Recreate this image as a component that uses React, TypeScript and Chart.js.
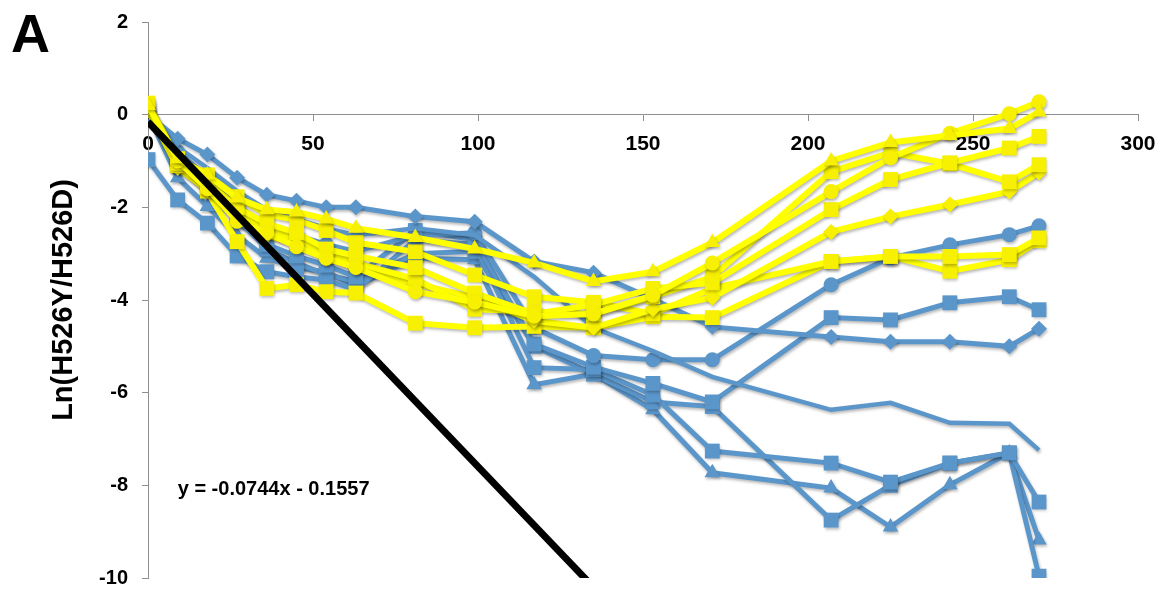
import React, { useEffect, useRef } from 'react';
import { Chart, registerables } from 'chart.js';

Chart.register(...registerables);

// Sampling times (x axis)
const X_VALUES = [0, 9, 18, 27, 36, 45, 54, 63, 81, 99, 117, 135, 153, 171, 207, 225, 243, 261, 270];

// Blue series (Ln ratio per sampling time)
const BLUE_DIAMOND = [0, -0.52, -0.86, -1.36, -1.73, -1.86, -2.0, -2.0, -2.2, -2.31, -3.17, -3.41, -3.98, -4.58, -4.8, -4.9, -4.9, -5.0, -4.62];
const BLUE_PLAIN = [0, -0.7, -1.15, -1.65, -2.05, -2.25, -2.45, -2.6, -2.45, -2.6, -3.5, -4.6, -5.1, -5.66, -6.37, -6.22, -6.65, -6.67, -7.24];
const BLUE_CIRCLE = [0, -0.8, -1.35, -1.95, -2.4, -2.6, -2.8, -2.95, -2.6, -2.55, -4.6, -5.2, -5.29, -5.29, -3.67, -3.09, -2.81, -2.59, -2.4];
const BLUE_SQUARE_A = [0, -1.0, -1.65, -2.3, -2.8, -3.05, -3.25, -3.5, -2.5, -2.7, -4.95, -5.45, -5.8, -6.2, -4.38, -4.43, -4.06, -3.93, -4.21];
const BLUE_SQUARE_B = [-0.97, -1.84, -2.34, -3.05, -3.39, -3.5, -3.57, -3.78, -2.7, -2.8, -5.46, -5.5, -6.05, -7.26, -7.52, -7.93, -7.52, -7.3, -8.36];
const BLUE_SQUARE_C = [0, -1.1, -1.6, -2.25, -2.9, -3.2, -3.45, -3.6, -3.0, -2.95, -5.0, -5.6, -6.2, -6.3, -8.75, -8.0, -7.52, -7.3, -9.96];
const BLUE_TRIANGLE = [0, -1.36, -1.98, -2.6, -3.1, -3.3, -3.4, -3.7, -3.1, -3.13, -5.83, -5.6, -6.37, -7.73, -8.06, -8.9, -7.99, -7.3, -9.18];

// Yellow series
const YELLOW_TRIANGLE = [0.2, -0.95, -1.3, -1.8, -2.05, -2.1, -2.25, -2.45, -2.65, -2.9, -3.2, -3.6, -3.39, -2.76, -1.0, -0.6, -0.45, -0.3, 0.06];
const YELLOW_CIRCLE = [0.2, -1.0, -1.6, -2.3, -2.55, -2.85, -3.1, -3.3, -3.82, -4.05, -4.35, -4.3, -3.9, -3.2, -1.66, -0.93, -0.4, 0.02, 0.28];
const YELLOW_CROSS_A = [0.15, -1.05, -1.45, -2.0, -2.35, -2.55, -2.9, -3.05, -3.3, -3.85, -4.3, -4.1, -3.75, -3.63, -2.05, -1.4, -1.04, -0.72, -0.47];
const YELLOW_CROSS_B = [0.1, -1.1, -1.55, -2.1, -2.45, -2.7, -3.0, -3.2, -3.55, -4.2, -4.25, -4.3, -3.93, -3.5, -1.23, -0.82, -1.06, -1.45, -1.08];
const YELLOW_DIAMOND = [0.1, -1.15, -1.62, -2.2, -2.6, -2.8, -3.1, -3.3, -3.65, -3.95, -4.45, -4.6, -4.2, -3.95, -2.53, -2.2, -1.94, -1.66, -1.25];
const YELLOW_PLUS = [0.25, -0.95, -1.3, -1.77, -2.16, -2.27, -2.5, -2.76, -2.96, -3.46, -3.93, -4.05, -4.3, -3.75, -3.17, -3.06, -3.06, -3.02, -2.66];
const YELLOW_SQUARE = [0.2, -1.1, -1.65, -2.74, -3.75, -3.67, -3.82, -3.85, -4.5, -4.6, -4.57, -4.6, -4.36, -4.38, -3.17, -3.06, -3.38, -3.13, -2.72];

// Linear trendline
const TREND_SLOPE = -0.0744;
const TREND_INTERCEPT = -0.1557;
const TREND_X = [0, 270];

const Y_TITLE = 'Ln(H526Y/H526D)';
const PANEL_LABEL = 'A';

const BLUE = '#5b96cb';
const YELLOW = '#ffff00';
const YELLOW_MARK = '#f7f000';
const AXIS_GRAY = '#8f8f8f';
const FONT = '"Liberation Sans", Arial, Helvetica, sans-serif';

type Marker = { style: string; radius: number };
const M_DIAMOND: Marker = { style: 'rectRot', radius: 8 };
const M_SQUARE: Marker = { style: 'rect', radius: 10.5 };
const M_TRIANGLE: Marker = { style: 'triangle', radius: 9 };
const M_CIRCLE: Marker = { style: 'circle', radius: 7.5 };
const M_NONE: Marker = { style: 'circle', radius: 0 };

function series(values: number[], color: string, markColor: string, marker: Marker, width: number, order: number) {
  return {
    type: 'line' as const,
    data: values.map((y, i) => ({ x: X_VALUES[i], y })),
    borderColor: color,
    borderWidth: width,
    backgroundColor: markColor,
    pointStyle: marker.style,
    pointRadius: marker.radius,
    pointBackgroundColor: markColor,
    pointBorderColor: markColor,
    pointBorderWidth: 0,
    pointHoverRadius: marker.radius,
    tension: 0,
    fill: false,
    order,
  };
}

const equationLabel = `y = ${TREND_SLOPE}x - ${Math.abs(TREND_INTERCEPT)}`;

// Soft drop shadow under the data series (not the trendline)
const shadowPlugin = {
  id: 'seriesShadow',
  beforeDatasetDraw(chart: any, args: any) {
    const ctx = chart.ctx;
    ctx.save();
    if (args.index !== 0) {
      ctx.shadowColor = 'rgba(0,0,0,0.28)';
      ctx.shadowBlur = 3;
      ctx.shadowOffsetX = 1;
      ctx.shadowOffsetY = 2;
    }
  },
  afterDatasetDraw(chart: any) {
    chart.ctx.restore();
  },
};

const equationPlugin = {
  id: 'equationText',
  afterDatasetsDraw(chart: any) {
    const { ctx, scales } = chart;
    const px = scales.x.getPixelForValue(9);
    const py = scales.y.getPixelForValue(-8.1);
    ctx.save();
    ctx.font = `bold 20px ${FONT}`;
    ctx.fillStyle = '#000';
    ctx.textAlign = 'left';
    ctx.textBaseline = 'middle';
    ctx.fillText(equationLabel, px, py);
    ctx.restore();
  },
};

export default function App() {
  const canvasRef = useRef<HTMLCanvasElement | null>(null);

  useEffect(() => {
    if (!canvasRef.current) return;
    const trend = {
      type: 'line' as const,
      data: TREND_X.map((x) => ({ x, y: TREND_SLOPE * x + TREND_INTERCEPT })),
      borderColor: '#000000',
      borderWidth: 7,
      pointRadius: 0,
      pointHoverRadius: 0,
      tension: 0,
      fill: false,
      order: 0,
    };
    const datasets: any[] = [
      trend,
      series(YELLOW_TRIANGLE, YELLOW, YELLOW_MARK, M_TRIANGLE, 6, 1),
      series(YELLOW_CIRCLE, YELLOW, YELLOW_MARK, M_CIRCLE, 6, 1),
      series(YELLOW_CROSS_A, YELLOW, YELLOW_MARK, M_SQUARE, 6, 1),
      series(YELLOW_CROSS_B, YELLOW, YELLOW_MARK, M_SQUARE, 6, 1),
      series(YELLOW_DIAMOND, YELLOW, YELLOW_MARK, M_DIAMOND, 6, 1),
      series(YELLOW_PLUS, YELLOW, YELLOW_MARK, M_SQUARE, 6, 1),
      series(YELLOW_SQUARE, YELLOW, YELLOW_MARK, M_SQUARE, 6, 1),
      series(BLUE_DIAMOND, BLUE, BLUE, M_DIAMOND, 5, 2),
      series(BLUE_PLAIN, BLUE, BLUE, M_NONE, 4.5, 2),
      series(BLUE_CIRCLE, BLUE, BLUE, M_CIRCLE, 5, 2),
      series(BLUE_SQUARE_A, BLUE, BLUE, M_SQUARE, 5, 2),
      series(BLUE_SQUARE_B, BLUE, BLUE, M_SQUARE, 5, 2),
      series(BLUE_SQUARE_C, BLUE, BLUE, M_SQUARE, 5, 2),
      series(BLUE_TRIANGLE, BLUE, BLUE, M_TRIANGLE, 5, 2),
    ];

    const chart = new Chart(canvasRef.current, {
      type: 'line',
      data: { datasets },
      options: {
        responsive: false,
        animation: false,
        events: [],
        layout: { padding: { left: 0, top: 22, right: 28, bottom: 16 } },
        plugins: {
          legend: { display: false },
          tooltip: { enabled: false },
          title: { display: false },
        },
        scales: {
          x: {
            type: 'linear',
            min: 0,
            max: 300,
            position: { y: 0 } as any,
            ticks: {
              stepSize: 50,
              color: '#000',
              padding: 11,
              maxRotation: 0,
              font: { family: FONT, size: 21, weight: 'bold' },
            },
            grid: { drawOnChartArea: false, drawTicks: true, tickLength: 6, color: AXIS_GRAY },
            border: { display: true, color: AXIS_GRAY, width: 1 },
            afterFit: (scale: any) => {
              scale.paddingLeft = 0;
              scale.paddingRight = 0;
              scale.paddingTop = 0;
              scale.paddingBottom = 0;
            },
          },
          y: {
            type: 'linear',
            min: -10,
            max: 2,
            ticks: {
              stepSize: 2,
              color: '#000',
              padding: 14,
              font: { family: FONT, size: 20, weight: 'bold' },
            },
            grid: { drawOnChartArea: false, drawTicks: true, tickLength: 6, color: AXIS_GRAY },
            border: { display: true, color: AXIS_GRAY, width: 1 },
            title: {
              display: true,
              text: Y_TITLE,
              color: '#000',
              font: { family: FONT, size: 29, weight: 'bold' },
              padding: { top: 47, bottom: 0 },
            },
            afterFit: (scale: any) => {
              scale.width = 148;
              scale.paddingTop = 0;
              scale.paddingBottom = 0;
            },
          },
        },
      },
      plugins: [shadowPlugin, equationPlugin],
    });
    return () => chart.destroy();
  }, []);

  return (
    <div style={{ position: 'fixed', left: 0, top: 0, width: 1166, height: 594, background: '#ffffff' }}>
      <canvas ref={canvasRef} width={1166} height={594} style={{ display: 'block' }} />
      <div
        style={{
          position: 'absolute',
          left: 11,
          top: 6,
          fontFamily: FONT,
          fontWeight: 'bold',
          fontSize: 54,
          lineHeight: '54px',
          color: '#000',
        }}
      >
        {PANEL_LABEL}
      </div>
    </div>
  );
}
